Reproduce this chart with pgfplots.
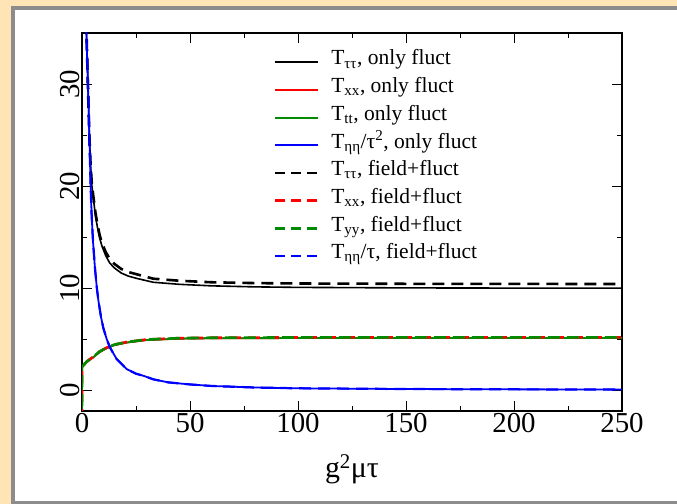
\documentclass[border=0pt]{standalone}
\usepackage{fontspec}
\setmainfont{Liberation Serif}
\usepackage{pgfplots}
\pgfplotsset{compat=1.18}
\definecolor{bgbeige}{RGB}{255,228,181}
\definecolor{framegray}{RGB}{140,140,140}
\definecolor{ggreen}{RGB}{0,139,0}
\begin{document}
\begin{tikzpicture}
\fill[bgbeige] (0bp,0bp) rectangle (677bp,504bp);
\fill[framegray] (11bp,0bp) rectangle (677bp,498bp);
\fill[white] (15bp,3bp) rectangle (677bp,494bp);
\begin{axis}[
  at={(82bp,93bp)}, anchor=south west,
  width=540bp, height=378bp, scale only axis,
  xmin=0, xmax=250, ymin=-2, ymax=35,
  xtick={0,50,...,250}, ytick={0,10,20,30},
  minor xtick={25,75,...,225}, minor ytick={5,15,25},
  tick align=inside,
  major tick length=10bp, minor tick length=5bp,
  axis line style={line width=1.4bp},
  tick style={line width=0.9bp, black},
  /pgf/number format/assume math mode=true,
  ticklabel style={font=\fontsize{29}{29}\selectfont},
  yticklabel style={rotate=90, anchor=south, inner sep=2bp},
  xticklabel style={inner sep=2bp},
  xlabel={g\textsuperscript{2}μτ},
  xlabel style={font=\fontsize{30}{30}\selectfont, inner sep=0bp, yshift=-20bp},
  legend cell align=left,
  legend style={draw=none, fill=none, at={(0.35,0.965)}, anchor=north west,
    font=\fontsize{21.6}{21.6}\selectfont,
    nodes={text height=16bp, text depth=10.7bp, inner sep=0.5bp},
    column sep=11bp},
  legend image code/.code={\draw[#1] (0bp,0bp) -- (43bp,0bp);},
]
% T_tautau only fluct
\addplot[forget plot, black, line width=1.6bp] coordinates {
(1.8,40) (2.1,35) (2.7,30) (3.4,25) (4.0,22) (4.6,20) (5.5,18.4) (6.3,17.0) (7.3,15.8) (8.2,14.9) (9.3,14.1) (11,13.2) (12.8,12.5) (15,12.0) (18.2,11.5) (21.5,11.2) (25.9,10.95) (33,10.6) (45,10.4) (60,10.25) (80,10.15) (100,10.1) (150,10.05) (200,10.03) (250,10.02)};
% T_xx only fluct
\addplot[forget plot, red, line width=1.8bp] coordinates {
(0,-3) (0.05,2.3) (1,2.5) (2,2.75) (3.5,3.0) (5.2,3.25) (8,3.75) (11.4,4.15) (15,4.45) (20.7,4.7) (30,4.95) (45,5.08) (60,5.12) (100,5.14) (150,5.15) (200,5.15) (250,5.15)};
% T_tt only fluct
\addplot[forget plot, ggreen, line width=1.8bp] coordinates {
(0,-3) (0.05,2.3) (1,2.5) (2,2.75) (3.5,3.0) (5.2,3.25) (8,3.75) (11.4,4.15) (15,4.45) (20.7,4.7) (30,4.95) (45,5.08) (60,5.12) (100,5.14) (150,5.15) (200,5.15) (250,5.15)};
% T_etaeta/tau^2 only fluct
\addplot[forget plot, blue, line width=1.8bp] coordinates {
(1.7,40) (2.0,35) (2.8,30) (3.4,25) (4.0,20) (4.5,17.0) (5.1,14.6) (6.0,12.0) (6.9,10.0) (7.6,8.8) (8.8,7.2) (9.9,6.1) (11.5,5.0) (13,4.2) (16,3.1) (20.7,2.1) (25,1.65) (28.4,1.45) (33,1.1) (40,0.8) (50,0.6) (60,0.45) (80,0.3) (100,0.22) (150,0.15) (200,0.12) (250,0.1)};
% T_tautau field+fluct
\addplot[forget plot, black, line width=2.6bp, dash pattern=on 12bp off 7bp] coordinates {
(1.8,40) (2.1,35) (2.7,30) (3.4,25) (4.0,22) (4.6,20.1) (5.5,18.6) (6.3,17.3) (7.3,16.1) (8.2,15.2) (9.3,14.4) (11,13.55) (12.8,12.9) (15,12.4) (18.2,11.9) (21.5,11.6) (25.9,11.35) (33,10.95) (45,10.75) (60,10.6) (80,10.52) (100,10.48) (150,10.45) (200,10.44) (250,10.43)};
% T_xx field+fluct
\addplot[forget plot, red, line width=2.6bp, dash pattern=on 12bp off 7bp] coordinates {
(0,-3) (0.05,2.35) (1,2.55) (2,2.8) (3.5,3.05) (5.2,3.3) (8,3.8) (11.4,4.2) (15,4.5) (20.7,4.75) (30,5.0) (45,5.13) (60,5.17) (100,5.2) (150,5.2) (200,5.2) (250,5.2)};
% T_yy field+fluct
\addplot[forget plot, ggreen, line width=2.6bp, dash pattern=on 12bp off 7bp, dash phase=4bp] coordinates {
(0,-3) (0.05,2.35) (1,2.55) (2,2.8) (3.5,3.05) (5.2,3.3) (8,3.8) (11.4,4.2) (15,4.5) (20.7,4.75) (30,5.0) (45,5.13) (60,5.17) (100,5.2) (150,5.2) (200,5.2) (250,5.2)};
% T_etaeta/tau field+fluct
\addplot[forget plot, blue, line width=2.2bp, dash pattern=on 12bp off 7bp] coordinates {
(1.7,40) (2.0,35) (2.8,30) (3.4,25) (4.0,20) (4.5,17.0) (5.1,14.6) (6.0,12.0) (6.9,10.0) (7.6,8.8) (8.8,7.2) (9.9,6.1) (11.5,5.0) (13,4.2) (16,3.1) (20.7,2.1) (25,1.65) (28.4,1.45) (33,1.1) (40,0.8) (50,0.6) (60,0.45) (80,0.3) (100,0.22) (150,0.15) (200,0.12) (250,0.1)};
% legend
\addlegendimage{black, line width=2bp, solid}
\addlegendentry{T\textsubscript{ττ}, only fluct}
\addlegendimage{red, line width=2bp, solid}
\addlegendentry{T\textsubscript{xx}, only fluct}
\addlegendimage{ggreen, line width=2bp, solid}
\addlegendentry{T\textsubscript{tt}, only fluct}
\addlegendimage{blue, line width=2bp, solid}
\addlegendentry{T\textsubscript{ηη}/τ\textsuperscript{2}, only fluct}
\addlegendimage{black, line width=2.6bp, dash pattern=on 10bp off 6bp}
\addlegendentry{T\textsubscript{ττ}, field+fluct}
\addlegendimage{red, line width=2.6bp, dash pattern=on 10bp off 6bp}
\addlegendentry{T\textsubscript{xx}, field+fluct}
\addlegendimage{ggreen, line width=2.6bp, dash pattern=on 10bp off 6bp}
\addlegendentry{T\textsubscript{yy}, field+fluct}
\addlegendimage{blue, line width=2.6bp, dash pattern=on 10bp off 6bp}
\addlegendentry{T\textsubscript{ηη}/τ, field+fluct}
\end{axis}
\end{tikzpicture}
\end{document}
